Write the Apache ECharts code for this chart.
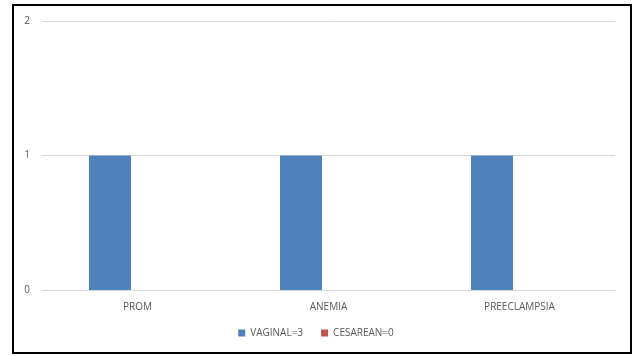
<!DOCTYPE html>
<html><head><meta charset="utf-8">
<script src="https://cdn.jsdelivr.net/npm/echarts@6/dist/echarts.min.js"></script>
<style>html,body{margin:0;padding:0;background:#fff}#c{width:632px;height:356px}</style>
</head><body><div id="c"></div>
<script>
const categories = ['PROM', 'ANEMIA', 'PREECLAMPSIA'];
const vaginal = [1, 1, 1];
const cesarean = [0, 0, 0];
const yTicks = [0, 1, 2];

const chart = echarts.init(document.getElementById('c'), null, {renderer: 'canvas'});
chart.setOption({
  animation: false,
  textStyle: {fontFamily: 'Open Sans'},
  graphic: [{type: 'rect', shape: {x: 13, y: 5, width: 618, height: 348}, style: {fill: 'none', stroke: '#000', lineWidth: 2}, silent: true}],
  grid: {left: 42, right: 17, top: 21, bottom: 66},
  legend: {
    bottom: 13, left: 'center', itemWidth: 7, itemHeight: 7, itemGap: 18, icon: 'rect',
    textStyle: {color: '#595959', fontSize: 10, fontFamily: 'Open Sans'},
    data: ['VAGINAL=3', 'CESAREAN=0']
  },
  xAxis: {
    type: 'category', data: categories,
    axisLine: {lineStyle: {color: '#d9d9d9'}}, axisTick: {show: false},
    axisLabel: {color: '#595959', fontSize: 10, margin: 12}
  },
  yAxis: {
    type: 'value', min: yTicks[0], max: yTicks[yTicks.length - 1], interval: 1,
    axisLine: {show: false}, axisTick: {show: false},
    axisLabel: {color: '#595959', fontSize: 10, margin: 12},
    splitLine: {lineStyle: {color: '#d9d9d9'}}
  },
  series: [
    {name: 'VAGINAL=3', type: 'bar', data: vaginal, barWidth: 42, barGap: '31%', itemStyle: {color: '#4f81bd'}},
    {name: 'CESAREAN=0', type: 'bar', data: cesarean, barWidth: 42, itemStyle: {color: '#c0504d'}}
  ]
});
</script></body></html>
